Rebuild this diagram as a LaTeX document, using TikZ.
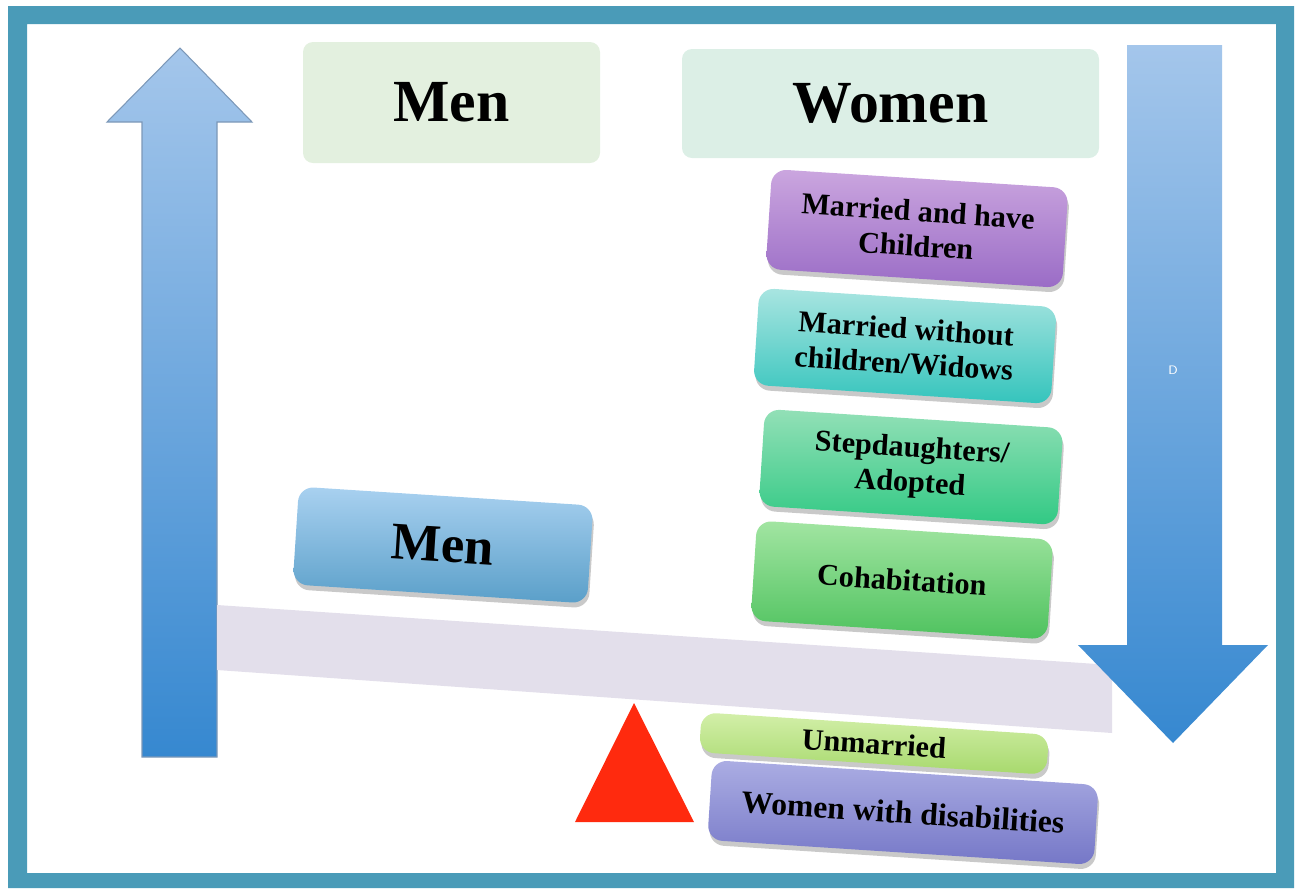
\documentclass[tikz,border=0pt]{standalone}
\usepackage{fontspec}
\setmainfont{Liberation Serif}
\usetikzlibrary{shadows}

\definecolor{framecol}{HTML}{4A9BB8}
\definecolor{arrowtop}{HTML}{A4C6EB}
\definecolor{arrowbot}{HTML}{3688D0}
\definecolor{arrowline}{HTML}{7C98B8}
\definecolor{beamcol}{HTML}{E3DFEB}
\definecolor{pivotcol}{HTML}{FF2A0E}
\definecolor{menhead}{HTML}{E3F0DF}
\definecolor{womenhead}{HTML}{DCEFE6}
\definecolor{marriedtop}{HTML}{CBA6DF}
\definecolor{marriedbot}{HTML}{9A6CC6}
\definecolor{widowstop}{HTML}{A9E5E1}
\definecolor{widowsbot}{HTML}{34C4BC}
\definecolor{adoptedtop}{HTML}{93E0B7}
\definecolor{adoptedbot}{HTML}{31C984}
\definecolor{cohabtop}{HTML}{A2E5A2}
\definecolor{cohabbot}{HTML}{4EC25E}
\definecolor{mentop}{HTML}{A9D1F0}
\definecolor{menbot}{HTML}{5A9FC9}
\definecolor{unmarriedtop}{HTML}{D3EFAA}
\definecolor{unmarriedbot}{HTML}{A7D96C}
\definecolor{disabledtop}{HTML}{ABADE3}
\definecolor{disabledbot}{HTML}{7577C7}

\tikzset{
    header/.style={rounded corners=0.1cm, inner sep=0pt, font=\fontsize{17}{20}\selectfont\bfseries},
    group/.style={rounded corners=0.15cm, rotate=-3.7, inner sep=0pt, align=center,
        font=\fontsize{8.6}{9.9}\selectfont\bfseries,
        drop shadow={shadow xshift=0.4pt, shadow yshift=-1.4pt, opacity=0.3, fill=black!70}},
}

\begin{document}
\begin{tikzpicture}
            \useasboundingbox (0,0) rectangle (13.01,-8.88);
            % frame
            \fill[framecol, even odd rule] (0.08,-0.06) rectangle (12.94,-8.88) (0.27,-0.24) rectangle (12.76,-8.73);

            % up arrow
            \shade[top color=arrowtop, bottom color=arrowbot, draw=arrowline, line width=0.3pt]
                (1.80,-0.48) -- (2.52,-1.22) -- (2.17,-1.22) -- (2.17,-7.57) -- (1.42,-7.57) -- (1.42,-1.22) -- (1.07,-1.22) -- cycle;

            % beam and pivot
            \fill[beamcol] (2.17,-6.05) -- (11.12,-6.65) -- (11.12,-7.33) -- (2.17,-6.70) -- cycle;
            \fill[pivotcol] (6.34,-7.03) -- (6.94,-8.22) -- (5.75,-8.22) -- cycle;

            % down arrow
            \shade[top color=arrowtop, bottom color=arrowbot]
                (11.27,-0.45) -- (12.22,-0.45) -- (12.22,-6.45) -- (12.68,-6.45) -- (11.73,-7.43) -- (10.78,-6.45) -- (11.27,-6.45) -- cycle;
            \node[text=white, font=\fontsize{3.5}{4}\selectfont\sffamily] (dlabel) at (11.73,-3.70) {D};

            % headers
            \node[header, fill=menhead, minimum width=2.97cm, minimum height=1.21cm] (menhead) at (4.515,-1.025) {Men};
            \node[header, fill=womenhead, minimum width=4.17cm, minimum height=1.09cm] (womenhead) at (8.905,-1.035) {Women};

            % women groups
            \node[group, top color=marriedtop, bottom color=marriedbot, minimum width=2.97cm, minimum height=1.0cm] (married) at (9.17,-2.285) {Married and have\\Children};
            \node[group, top color=widowstop, bottom color=widowsbot, minimum width=2.98cm, minimum height=0.97cm] (widows) at (9.05,-3.46) {Married without\\children/Widows};
            \node[group, top color=adoptedtop, bottom color=adoptedbot, minimum width=2.99cm, minimum height=0.97cm] (adopted) at (9.11,-4.67) {Stepdaughters/\\Adopted};
            \node[group, top color=cohabtop, bottom color=cohabbot, minimum width=2.97cm, minimum height=1.0cm] (cohab) at (9.02,-5.80) {Cohabitation};

            % men group
            \node[group, top color=mentop, bottom color=menbot, minimum width=2.95cm, minimum height=0.98cm, font=\fontsize{15}{18}\selectfont\bfseries] (men) at (4.43,-5.45) {Men};

            % below the beam
            \node[group, top color=unmarriedtop, bottom color=unmarriedbot, minimum width=3.48cm, minimum height=0.40cm] (unmarried) at (8.74,-7.435) {Unmarried};
            \node[group, top color=disabledtop, bottom color=disabledbot, minimum width=3.87cm, minimum height=0.80cm, font=\fontsize{9}{10}\selectfont\bfseries] (disabled) at (9.03,-8.125) {Women with disabilities};
        \end{tikzpicture}
\end{document}
